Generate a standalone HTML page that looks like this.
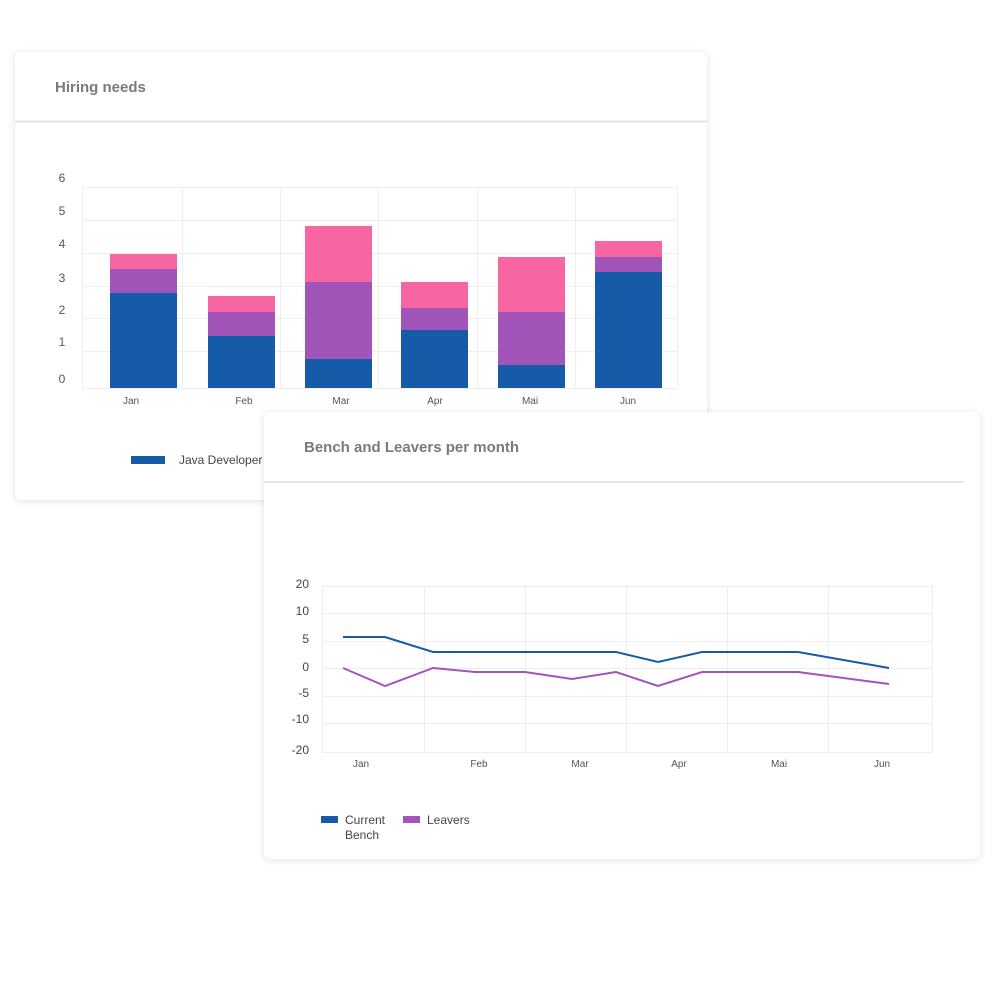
<!DOCTYPE html>
<html><head><meta charset="utf-8"><style>
body{margin:0;width:1000px;height:1000px;background:#fff;position:relative;overflow:hidden;font-family:"Liberation Sans",sans-serif}
.card{position:absolute;background:#fff;border-radius:6px;box-shadow:0 1px 8px rgba(0,0,0,0.12)}
svg{position:absolute;left:0;top:0}
</style></head><body>
<div class="card" style="left:15px;top:52px;width:692px;height:448px"></div>
<svg width="1000" height="1000" style="z-index:1">
<g font-family="Liberation Sans, sans-serif">
<text x="55" y="92" font-size="15" font-weight="bold" fill="#7a7a7a">Hiring needs</text>
<line x1="15" y1="121.5" x2="707" y2="121.5" stroke="#e6e6e6" stroke-width="2"/>
<g stroke="#eeeeee" stroke-width="1">
<line x1="82" y1="187.5" x2="677" y2="187.5"/><line x1="82" y1="220.5" x2="677" y2="220.5"/><line x1="82" y1="253.5" x2="677" y2="253.5"/><line x1="82" y1="286.5" x2="677" y2="286.5"/><line x1="82" y1="318.5" x2="677" y2="318.5"/><line x1="82" y1="351.5" x2="677" y2="351.5"/><line x1="82" y1="388.5" x2="677" y2="388.5"/>
<line x1="82.5" y1="187" x2="82.5" y2="388"/><line x1="182.5" y1="187" x2="182.5" y2="388"/><line x1="280.5" y1="187" x2="280.5" y2="388"/><line x1="378.5" y1="187" x2="378.5" y2="388"/><line x1="477.5" y1="187" x2="477.5" y2="388"/><line x1="575.5" y1="187" x2="575.5" y2="388"/><line x1="677.5" y1="187" x2="677.5" y2="388"/>
</g>
<g font-size="12" fill="#555" text-anchor="middle">
<text x="62" y="182">6</text><text x="62" y="215">5</text><text x="62" y="248">4</text><text x="62" y="282">3</text><text x="62" y="314">2</text><text x="62" y="346">1</text><text x="62" y="383">0</text>
</g>
<g>
<rect x="110" y="254" width="67" height="15" fill="#f766a3"/><rect x="110" y="269" width="67" height="24" fill="#a155b9"/><rect x="110" y="293" width="67" height="95" fill="#165ba8"/>
<rect x="208" y="296" width="67" height="16" fill="#f766a3"/><rect x="208" y="312" width="67" height="24" fill="#a155b9"/><rect x="208" y="336" width="67" height="52" fill="#165ba8"/>
<rect x="305" y="226" width="67" height="56" fill="#f766a3"/><rect x="305" y="282" width="67" height="77" fill="#a155b9"/><rect x="305" y="359" width="67" height="29" fill="#165ba8"/>
<rect x="401" y="282" width="67" height="26" fill="#f766a3"/><rect x="401" y="308" width="67" height="22" fill="#a155b9"/><rect x="401" y="330" width="67" height="58" fill="#165ba8"/>
<rect x="498" y="257" width="67" height="55" fill="#f766a3"/><rect x="498" y="312" width="67" height="53" fill="#a155b9"/><rect x="498" y="365" width="67" height="23" fill="#165ba8"/>
<rect x="595" y="241" width="67" height="16" fill="#f766a3"/><rect x="595" y="257" width="67" height="15" fill="#a155b9"/><rect x="595" y="272" width="67" height="116" fill="#165ba8"/>
</g>
<g font-size="10" fill="#555" text-anchor="middle">
<text x="131" y="404">Jan</text><text x="244" y="404">Feb</text><text x="341" y="404">Mar</text><text x="435" y="404">Apr</text><text x="530" y="404">Mai</text><text x="628" y="404">Jun</text>
</g>
<rect x="131" y="456" width="34" height="8" fill="#165ba8"/>
<text x="179" y="464" font-size="12" fill="#444">Java Developer</text>
</g>
</svg>
<div class="card" style="left:264px;top:412px;width:716px;height:447px;z-index:2"></div>
<svg width="1000" height="1000" style="z-index:3">
<g font-family="Liberation Sans, sans-serif">
<text x="304" y="452" font-size="15" font-weight="bold" fill="#7a7a7a">Bench and Leavers per month</text>
<line x1="264" y1="482" x2="964" y2="482" stroke="#e6e6e6" stroke-width="2"/>
<g stroke="#eeeeee" stroke-width="1">
<line x1="322" y1="586.5" x2="932" y2="586.5"/><line x1="322" y1="613.5" x2="932" y2="613.5"/><line x1="322" y1="641.5" x2="932" y2="641.5"/><line x1="322" y1="668.5" x2="932" y2="668.5"/><line x1="322" y1="696.5" x2="932" y2="696.5"/><line x1="322" y1="723.5" x2="932" y2="723.5"/><line x1="322" y1="752.5" x2="932" y2="752.5"/>
<line x1="322.5" y1="586" x2="322.5" y2="752"/><line x1="424.5" y1="586" x2="424.5" y2="752"/><line x1="525.5" y1="586" x2="525.5" y2="752"/><line x1="626.5" y1="586" x2="626.5" y2="752"/><line x1="727.5" y1="586" x2="727.5" y2="752"/><line x1="828.5" y1="586" x2="828.5" y2="752"/><line x1="932.5" y1="586" x2="932.5" y2="752"/>
</g>
<g font-size="12" fill="#444" text-anchor="end">
<text x="309" y="588">20</text><text x="309" y="615">10</text><text x="309" y="643">5</text><text x="309" y="671">0</text><text x="309" y="697">-5</text><text x="309" y="723">-10</text><text x="309" y="754">-20</text>
</g>
<polyline fill="none" stroke="#165ba8" stroke-width="2" points="343,637 385,637 433,652 616,652 658,662 702,652 798,652 889,668"/>
<polyline fill="none" stroke="#a155b9" stroke-width="2" points="343,668 385,686 433,668 475,672 525,672 572,679 616,672 658,686 702,672 798,672 889,684"/>
<g font-size="10" fill="#555" text-anchor="middle">
<text x="361" y="767">Jan</text><text x="479" y="767">Feb</text><text x="580" y="767">Mar</text><text x="679" y="767">Apr</text><text x="779" y="767">Mai</text><text x="882" y="767">Jun</text>
</g>
<rect x="321" y="816" width="17" height="7" fill="#165ba8"/>
<text x="345" y="824" font-size="12" fill="#444">Current</text>
<text x="345" y="839" font-size="12" fill="#444">Bench</text>
<rect x="403" y="816" width="17" height="7" fill="#a155b9"/>
<text x="427" y="824" font-size="12" fill="#444">Leavers</text>
</g>
</svg>
</body></html>
